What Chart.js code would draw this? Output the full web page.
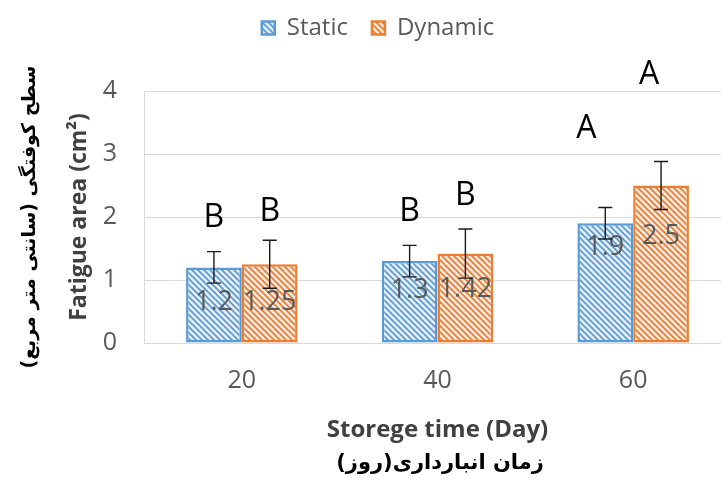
<!DOCTYPE html>
<html>
<head>
<meta charset="utf-8">
<script src="https://cdn.jsdelivr.net/npm/chart.js@4/dist/chart.umd.min.js"></script>
<style>
  html, body { margin: 0; padding: 0; background: #ffffff; overflow: hidden; }
  #wrap { width: 721px; height: 480px; overflow: hidden; }
  #c { display: block; }
</style>
</head>
<body>
<div id="wrap"><canvas id="c" width="731" height="480"></canvas></div>
<script>
// Storage time categories (days)
const categories = ['20', '40', '60'];
// Mean fatigue area (cm²) per loading type
const staticValues = [1.2, 1.3, 1.9];
const dynamicValues = [1.25, 1.42, 2.5];
// Error bar half-widths
const staticErrors = [0.25, 0.25, 0.25];
const dynamicErrors = [0.38, 0.39, 0.38];
// Significance groups shown above bars
const staticGroups = ['B', 'B', 'A'];
const dynamicGroups = ['B', 'B', 'A'];
// Y axis tick values
const yTicks = [0, 1, 2, 3, 4];

// Annotation placement (pixels): value label drop below bar top, group letter offset from whisker top
const labelDrop = [[35, 38], [29, 36], [24, 51]];
const letterOffset = [[[0, -34], [0, -28]], [[0, -33], [0, -33]], [[-19, -79], [-12, -87]]];

const FONT = '"Open Sans", "Liberation Sans", sans-serif';
const FA_FONT = '"DejaVu Sans", "Noto Sans", sans-serif';

function hatch(bg, fg) {
  const s = 6;
  const c = document.createElement('canvas');
  c.width = s; c.height = s;
  const g = c.getContext('2d');
  g.fillStyle = bg;
  g.fillRect(0, 0, s, s);
  g.strokeStyle = fg;
  g.lineWidth = 1.7;
  g.beginPath();
  g.moveTo(-1, -1); g.lineTo(s + 1, s + 1);
  g.moveTo(-1, s - 1); g.lineTo(1, s + 1);
  g.moveTo(s - 1, -1); g.lineTo(s + 1, 1);
  g.stroke();
  return g.createPattern(c, 'repeat');
}

const blueHatch = hatch('#e4eef8', '#5b9bd5');
const orangeHatch = hatch('#fde8d9', '#ed7d31');

const errors = [staticErrors, dynamicErrors];
const groups = [staticGroups, dynamicGroups];

const annotations = {
  id: 'annotations',
  afterDatasetsDraw(chart) {
    const ctx = chart.ctx;
    const y = chart.scales.y;
    ctx.save();
    chart.data.datasets.forEach((ds, di) => {
      const meta = chart.getDatasetMeta(di);
      meta.data.forEach((bar, i) => {
        const v = ds.data[i];
        const e = errors[di][i];
        const top = y.getPixelForValue(v + e);
        const bot = y.getPixelForValue(v - e);
        const x = bar.x;
        // value label inside the bar
        ctx.fillStyle = '#595959';
        ctx.font = '27px ' + FONT;
        ctx.textAlign = 'center';
        ctx.textBaseline = 'middle';
        ctx.fillText(String(v), x, bar.y + labelDrop[i][di]);
        // error bar
        ctx.strokeStyle = '#1a1a1a';
        ctx.lineWidth = 1.4;
        ctx.beginPath();
        ctx.moveTo(x, top); ctx.lineTo(x, bot);
        ctx.moveTo(x - 7, top); ctx.lineTo(x + 7, top);
        ctx.moveTo(x - 7, bot); ctx.lineTo(x + 7, bot);
        ctx.stroke();
        // significance letter
        const off = letterOffset[i][di];
        ctx.fillStyle = '#000000';
        ctx.font = '32px ' + FONT;
        ctx.fillText(groups[di][i], x + off[0], top + off[1]);
      });
    });
    ctx.restore();
  },
  afterDraw(chart) {
    const ctx = chart.ctx;
    ctx.save();
    ctx.fillStyle = '#000000';
    ctx.textAlign = 'center';
    ctx.textBaseline = 'middle';
    ctx.direction = 'rtl';
    // Persian x-axis title
    ctx.font = 'bold 21px ' + FA_FONT;
    ctx.fillText('زمان انبارداری(روز)', 440, 464);
    // Persian y-axis title
    ctx.translate(30, 217);
    ctx.rotate(-Math.PI / 2);
    ctx.font = 'bold 19px ' + FA_FONT;
    ctx.fillText('سطح کوفتگی (سانتی متر مربع)', 0, 0);
    ctx.restore();
  }
};

new Chart(document.getElementById('c'), {
  type: 'bar',
  data: {
    labels: categories,
    datasets: [
      {
        label: 'Static',
        data: staticValues,
        backgroundColor: blueHatch,
        borderColor: '#5b9bd5',
        borderWidth: 2.5,
        borderSkipped: false,
        categoryPercentage: 0.57,
        barPercentage: 1.0
      },
      {
        label: 'Dynamic',
        data: dynamicValues,
        backgroundColor: orangeHatch,
        borderColor: '#ed7d31',
        borderWidth: 2.5,
        borderSkipped: false,
        categoryPercentage: 0.57,
        barPercentage: 1.0
      }
    ]
  },
  options: {
    responsive: false,
    animation: false,
    layout: { padding: { top: -8, left: 25, right: 0, bottom: 30 } },
    plugins: {
      legend: {
        position: 'top',
        labels: {
          color: '#595959',
          font: { family: FONT, size: 24 },
          boxWidth: 13,
          boxHeight: 13,
          padding: 24
        }
      },
      title: {
        display: true,
        text: '',
        weight: 500,
        font: { size: 10, lineHeight: 1 },
        padding: { top: 31, bottom: 0 }
      },
      tooltip: { enabled: false }
    },
    scales: {
      x: {
        grid: { display: false, drawTicks: false },
        border: { display: true, color: '#d9d9d9', width: 1 },
        ticks: { color: '#595959', font: { family: FONT, size: 25 }, padding: 23 },
        title: {
          display: true,
          text: 'Storege time (Day)',
          color: '#404040',
          font: { family: FONT, size: 24, weight: 'bold' },
          padding: { top: 0, bottom: 5 }
        },
        afterFit(scale) { scale.height = 107; }
      },
      y: {
        min: 0,
        max: 4,
        grid: { color: '#d9d9d9', lineWidth: 1, drawTicks: false },
        border: { display: true, color: '#d9d9d9', width: 1 },
        afterBuildTicks(scale) { scale.ticks = yTicks.map(v => ({ value: v })); },
        ticks: { color: '#595959', font: { family: FONT, size: 25 }, padding: 27 },
        title: {
          display: true,
          text: 'Fatigue area (cm²)',
          color: '#404040',
          font: { family: FONT, size: 23, weight: 'bold' },
          padding: { top: 41, bottom: 0 }
        },
        afterFit(scale) { scale.width = 119; }
      }
    }
  },
  plugins: [annotations]
});
</script>
</body>
</html>
